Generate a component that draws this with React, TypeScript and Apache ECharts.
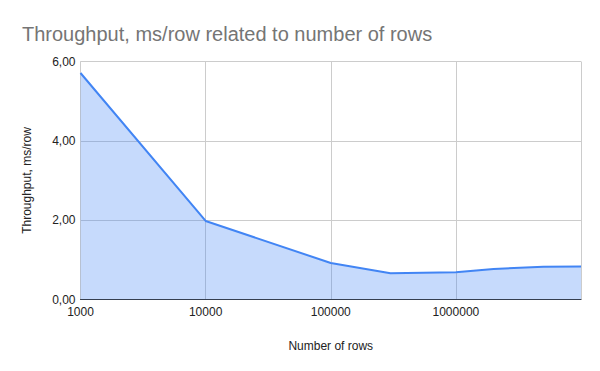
import React, { useEffect, useRef } from "react";
import * as echarts from "echarts";

const rowCounts = [1000, 10000, 100000, 300000, 1000000, 2000000, 5000000, 10000000];
const msPerRow = [5.71, 1.98, 0.92, 0.66, 0.69, 0.77, 0.825, 0.835];
const yTicks = [0, 2, 4, 6];

export default function App() {
  const ref = useRef<HTMLDivElement>(null);
  useEffect(() => {
    if (!ref.current) return;
    const chart = echarts.init(ref.current, null, { renderer: "svg" });
    const font = "Arial, 'Liberation Sans', sans-serif";
    chart.setOption({
      animation: false,
      backgroundColor: "#ffffff",
      title: {
        text: "Throughput, ms/row related to number of rows",
        left: 17,
        top: 19,
        textStyle: { fontFamily: font, fontSize: 20, fontWeight: "normal", color: "#757575" },
      },
      grid: { left: 80.5, right: 19, top: 61.5, bottom: 71.5 },
      xAxis: {
        type: "log",
        logBase: 10,
        min: 1000,
        max: 10000000,
        name: "Number of rows",
        nameLocation: "middle",
        nameGap: 40,
        nameTextStyle: { fontFamily: font, fontSize: 12, color: "#222222" },
        axisLine: { show: true, lineStyle: { color: "#333333", width: 1 } },
        axisTick: { show: false },
        axisLabel: {
          fontFamily: font,
          fontSize: 12,
          color: "#222222",
          margin: 6,
          showMaxLabel: false,
          formatter: (v: number) => (v >= 9999999 ? "" : String(Math.round(v))),
        },
        splitLine: { show: true, lineStyle: { color: "#cccccc", width: 1 } },
      },
      yAxis: {
        type: "value",
        min: yTicks[0],
        max: yTicks[yTicks.length - 1],
        interval: 2,
        name: "Throughput, ms/row",
        nameLocation: "middle",
        nameGap: 48,
        nameTextStyle: { fontFamily: font, fontSize: 12, color: "#222222" },
        axisLine: { show: false },
        axisTick: { show: false },
        axisLabel: {
          fontFamily: font,
          fontSize: 12,
          color: "#222222",
          margin: 5,
          formatter: (v: number) => v.toFixed(2).replace(".", ","),
        },
        splitLine: { show: true, lineStyle: { color: "#cccccc", width: 1 } },
      },
      series: [
        {
          type: "line",
          data: rowCounts.map((x, i) => [x, msPerRow[i]]),
          showSymbol: false,
          symbol: "none",
          lineStyle: { color: "#4285f4", width: 2 },
          itemStyle: { color: "#4285f4" },
          areaStyle: { color: "rgba(66,133,244,0.3)", opacity: 1, origin: "start" },
          z: 3,
        },
      ],
    });
    return () => chart.dispose();
  }, []);
  return <div ref={ref} style={{ width: 600, height: 371, position: "absolute", left: 0, top: 0 }} />;
}
